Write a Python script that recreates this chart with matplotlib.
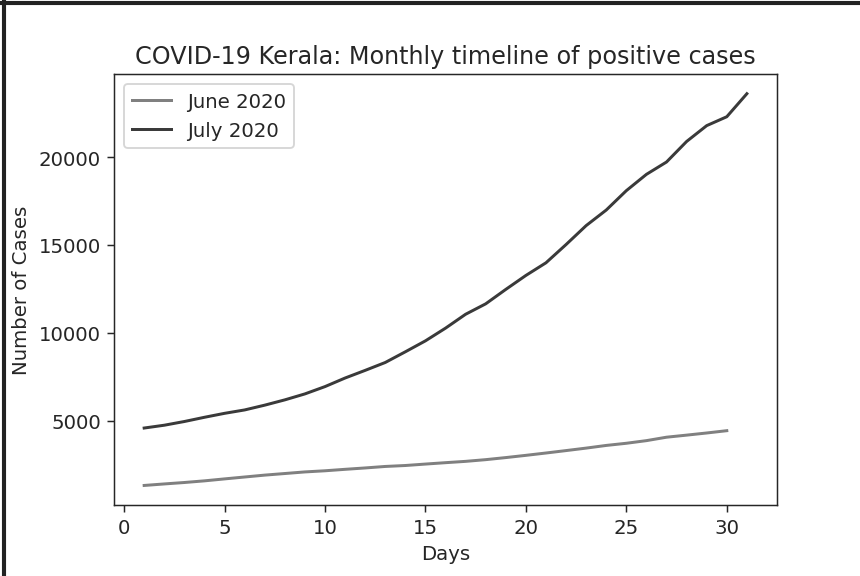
import matplotlib as mpl
import matplotlib.pyplot as plt
import numpy as np

days_june = list(range(1, 31))
june_cases = [1326, 1412, 1494, 1588, 1699, 1807, 1914, 2005, 2096, 2161,
              2244, 2322, 2407, 2461, 2543, 2622, 2697, 2794, 2912, 3039,
              3172, 3310, 3451, 3603, 3726, 3876, 4071, 4189, 4311, 4442]

days_july = list(range(1, 32))
july_cases = [4593, 4753, 4964, 5204, 5429, 5622, 5894, 6195, 6534, 6950,
              7438, 7873, 8322, 8930, 9553, 10275, 11066, 11659, 12480, 13274,
              13994, 15032, 16110, 16995, 18098, 19025, 19727, 20895, 21797, 22303,
              23613]

dark = "#262626"
mpl.rcParams["font.size"] = 10.6
mpl.rcParams["text.color"] = dark
mpl.rcParams["axes.labelcolor"] = dark
mpl.rcParams["xtick.color"] = dark
mpl.rcParams["ytick.color"] = dark
mpl.rcParams["axes.edgecolor"] = dark

fig = plt.figure(figsize=(6.4, 4.293), dpi=134.375)
ax = fig.add_axes([0.1326, 0.123, 0.7709, 0.747])

ax.plot(days_june, june_cases, color="#808080", lw=1.6, label="June 2020")
ax.plot(days_july, july_cases, color="#3a3a3a", lw=1.6, label="July 2020")

ax.set_title("COVID-19 Kerala: Monthly timeline of positive cases", fontsize=12.8)
ax.set_xlabel("Days")
ax.set_ylabel("Number of Cases")
ax.set_yticks([5000, 10000, 15000, 20000])
ax.legend(loc="upper left")

# dark frame drawn on the top and left edges of the image
fig.add_artist(plt.Line2D([0, 1], [1 - 4 / 577, 1 - 4 / 577], transform=fig.transFigure,
                          color="#222222", lw=2.2))
fig.add_artist(plt.Line2D([4 / 860, 4 / 860], [0, 1], transform=fig.transFigure,
                          color="#222222", lw=2.2))

fig.savefig("out.png", dpi=134.375)
